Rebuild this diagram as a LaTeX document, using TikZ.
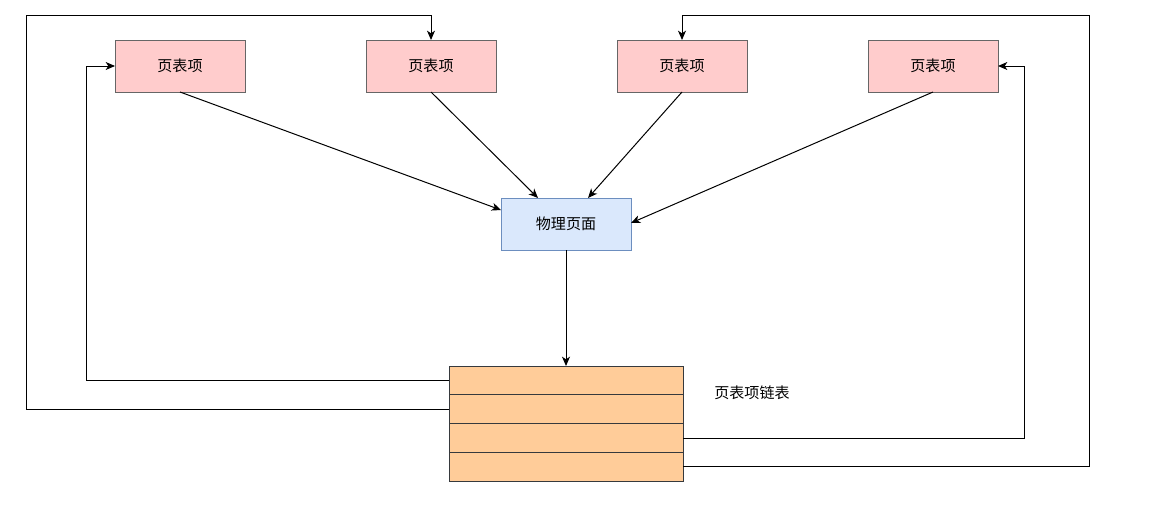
\documentclass[tikz,border=0pt]{standalone}
\usepackage{fontspec}
\setmainfont{Noto Sans CJK SC}
\usetikzlibrary{arrows.meta}
\definecolor{pinkfill}{HTML}{FFCCCC}
\definecolor{boxline}{HTML}{666666}
\definecolor{bluefill}{HTML}{DAE8FC}
\definecolor{blueline}{HTML}{6C8EBF}
\definecolor{orangefill}{HTML}{FFCC99}
\definecolor{listline}{HTML}{36393D}
\tikzset{
  pte/.style={draw=boxline, fill=pinkfill, line width=0.75pt, minimum width=97.5pt, minimum height=39pt, inner sep=0pt, outer sep=0pt, font=\fontsize{11.3}{13}\selectfont},
  phys/.style={draw=blueline, fill=bluefill, line width=0.75pt, minimum width=97.5pt, minimum height=39pt, inner sep=0pt, outer sep=0pt, font=\fontsize{11.3}{13}\selectfont},
  row/.style={draw=listline, fill=orangefill, line width=0.75pt, minimum width=175.5pt, minimum height=21.6pt, inner sep=0pt, outer sep=0pt},
  conn/.style={line width=0.75pt, -{Stealth[length=7pt,width=6pt,inset=2pt]}},
  lbl/.style={font=\fontsize{11.3}{13}\selectfont}
}
\begin{document}
\begin{tikzpicture}[x=0.75pt,y=-0.75pt]
\useasboundingbox (0,0) rectangle (1159,514);
\node[pte] (p1) at (180,66) {页表项};
\node[pte] (p2) at (431,66) {页表项};
\node[pte] (p3) at (682,66) {页表项};
\node[pte] (p4) at (933,66) {页表项};
\node[phys] (ph) at (566,224) {物理页面};
\node[row, anchor=north] (r1) at (566,366) {};
\node[row, anchor=north] (r2) at (r1.south) {};
\node[row, anchor=north] (r3) at (r2.south) {};
\node[row, anchor=north] (r4) at (r3.south) {};
\node[lbl] (ll) at (752,393) {页表项链表};
\coordinate (t1) at (501,210);
\coordinate (t2) at (538,198);
\coordinate (t3) at (588,198);
\coordinate (t4) at (631,223);
\coordinate (xa) at (86,0);
\coordinate (xb) at (26,0);
\coordinate (xc) at (1024,0);
\coordinate (xd) at (1089,0);
\coordinate (ytop) at (0,15);
\draw[conn] (p1.south) -- (t1);
\draw[conn] (p2.south) -- (t2);
\draw[conn] (p3.south) -- (t3);
\draw[conn] (p4.south) -- (t4);
\draw[conn] (ph.south) -- (r1.north);
\draw[conn] (r1.west) -- (r1.west -| xa) |- (p1.west);
\draw[conn] (r2.west) -- (r2.west -| xb) -- (xb |- ytop) -| (p2.north);
\draw[conn] (r3.east) -- (r3.east -| xc) |- (p4.east);
\draw[conn] (r4.east) -- (r4.east -| xd) -- (xd |- ytop) -| (p3.north);
\end{tikzpicture}
\end{document}
